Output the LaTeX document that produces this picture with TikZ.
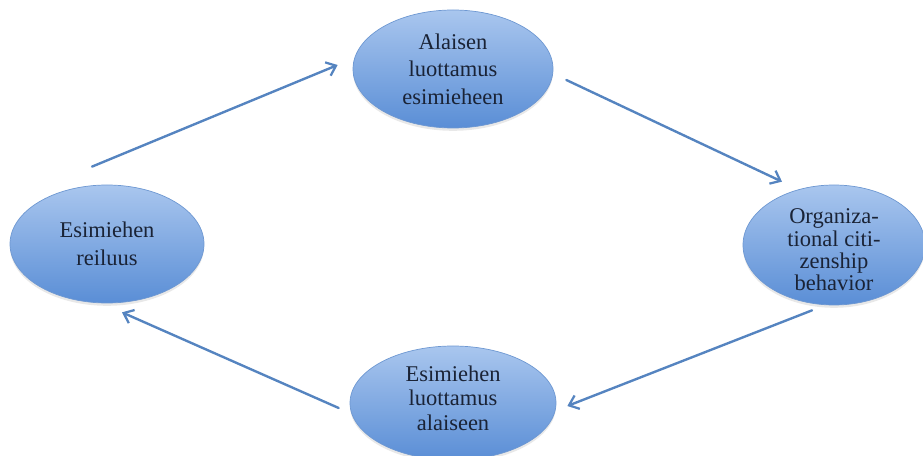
\documentclass[tikz,border=0pt]{standalone}
\usepackage{fontspec}
\setmainfont{Liberation Serif}
\usetikzlibrary{arrows.meta,shapes.geometric,shadows}
\definecolor{factortop}{HTML}{A9C6EE}
\definecolor{factorbottom}{HTML}{5A8ED6}
\definecolor{factorborder}{HTML}{6E98D2}
\definecolor{flowline}{HTML}{5584C0}
\definecolor{factortext}{HTML}{1A2336}
\tikzset{
  factor/.style={ellipse, top color=factortop, bottom color=factorbottom, draw=factorborder, line width=0.5pt, inner sep=0pt, drop shadow={opacity=0.18, shadow xshift=0pt, shadow yshift=-2pt}},
  factorlabel/.style={align=center, text=factortext, inner sep=0pt, font=\fontsize{16}{19.5}\selectfont},
  tightlabel/.style={factorlabel, font=\fontsize{16}{15.8}\selectfont},
  flow/.style={-{Straight Barb[length=2.2mm, width=3.6mm, line width=1.6pt]}, line width=1.7pt, draw=flowline, line cap=round}
}
\begin{document}
\begin{tikzpicture}

\useasboundingbox (0,0) rectangle (23.075,11.375);

\node[factor, minimum width=5.0cm, minimum height=2.95cm, label={[factorlabel]center:Alaisen\\luottamus\\esimieheen}] (alaluot) at (11.325,9.65) {};
\node[factor, minimum width=4.85cm, minimum height=2.95cm, label={[factorlabel]center:Esimiehen\\reiluus}] (esireil) at (2.675,5.275) {};
\node[factor, minimum width=4.55cm, minimum height=3.0cm, label={[tightlabel, yshift=-0.12cm]center:Organiza-\\tional citi-\\zenship\\behavior}] (ocb) at (20.85,5.25) {};
\node[factor, minimum width=5.15cm, minimum height=2.85cm, label={[factorlabel, font=\fontsize{16}{17.6}\selectfont, yshift=0.12cm]center:Esimiehen\\luottamus\\alaiseen}] (esiluot) at (11.325,1.3) {};

\draw[flow] ([shift={(-0.375,0.45)}]esireil.north) -- ([shift={(-0.375,0.1)}]alaluot.west);
\draw[flow] ([shift={(0.325,-0.275)}]alaluot.east) -- ([shift={(-1.3,0.075)}]ocb.north);
\draw[flow] ([shift={(-0.55,-0.125)}]ocb.south) -- ([shift={(0.275,-0.075)}]esiluot.east);
\draw[flow] ([shift={(-0.275,-0.125)}]esiluot.west) -- ([shift={(0.375,-0.225)}]esireil.south);

\end{tikzpicture}
\end{document}
